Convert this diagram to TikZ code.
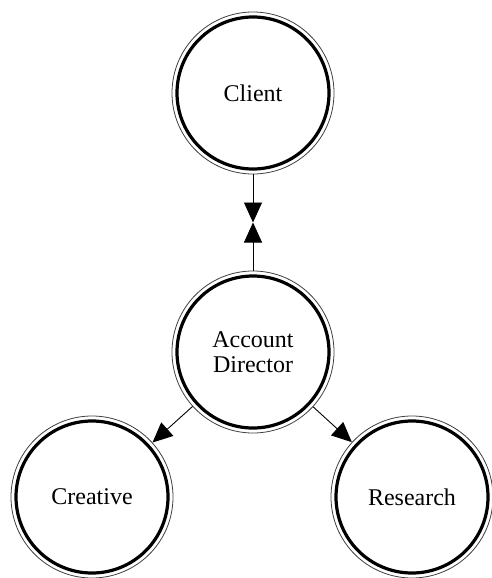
\documentclass[tikz,border=0pt]{standalone}
\usepackage{fontspec}
\setmainfont{Liberation Serif}
\usetikzlibrary{arrows.meta,calc}
\begin{document}
\begin{tikzpicture}[x=1pt,y=-1pt,
  role/.style={circle, draw=black!75, line width=0.8pt, minimum size=162pt, inner sep=0pt,
    align=center, font=\fontsize{24}{25.5}\selectfont,
    path picture={\draw[line width=3.2pt, black] (path picture bounding box.center) circle (76pt);}},
  link/.style={line width=0.9pt, -{Triangle[length=20pt, width=18pt]}}]
\useasboundingbox (0,0) rectangle (491,578);
\node[role] (client) at (253,93) {Client};
\node[role] (ad) at (253,352) {Account\\Director};
\node[role] (creative) at (92,497) {Creative};
\node[role] (research) at (412,497) {Research};
\coordinate (mid) at ($(client.south)!0.5!(ad.north)$);
\draw[link] (client) -- (mid);
\draw[link] (ad) -- (mid);
\draw[link] (ad) -- (creative);
\draw[link] (ad) -- (research);
\end{tikzpicture}
\end{document}
